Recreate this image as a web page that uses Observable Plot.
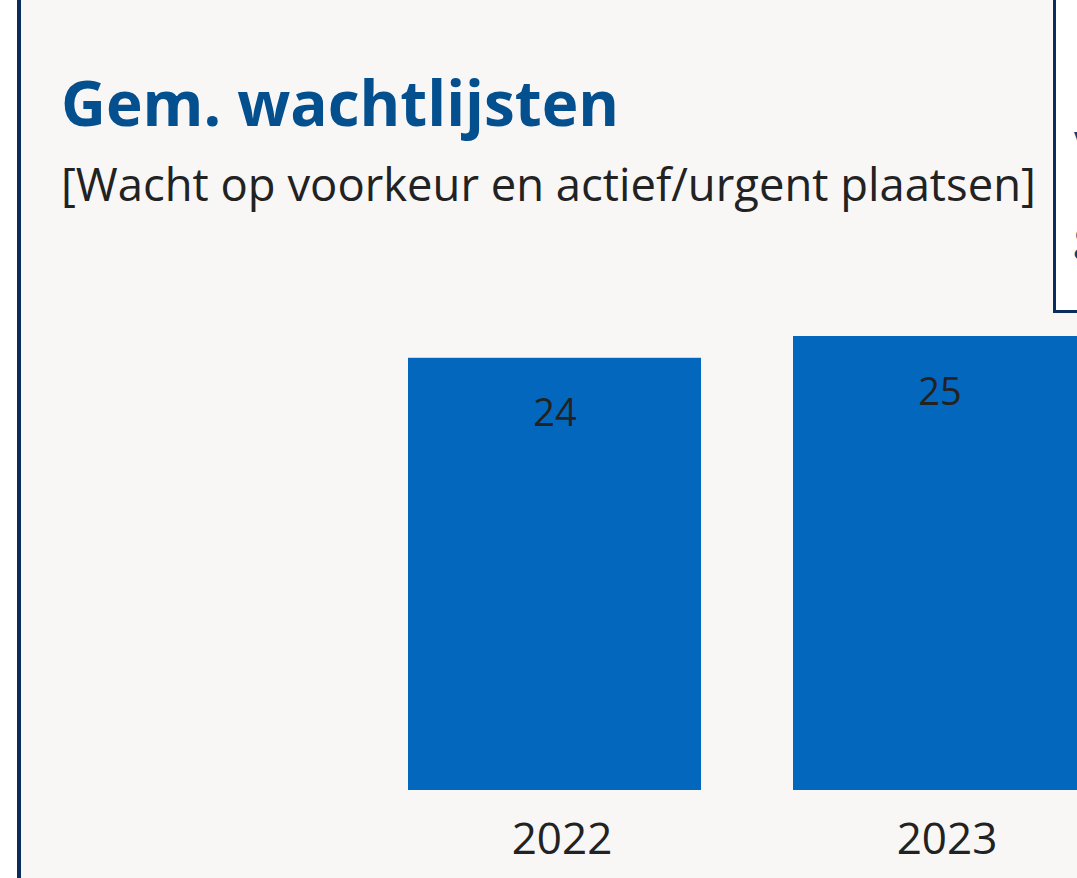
<!DOCTYPE html>
<html><head><meta charset="utf-8">
<script src="https://cdn.jsdelivr.net/npm/d3@7"></script>
<script src="https://cdn.jsdelivr.net/npm/@observablehq/plot@0.6"></script>
<style>
html,body{margin:0;padding:0;width:1077px;height:878px;overflow:hidden;background:#fff;font-family:"Open Sans",sans-serif;}
#panel{position:absolute;left:17px;top:0;width:1200px;height:878px;background:#f8f7f6;border-left:4px solid #0b2d5e;}
#title{position:absolute;left:61px;top:71px;font-weight:700;color:#044f8e;font-size:62px;line-height:1;white-space:nowrap;}
#subtitle{position:absolute;left:61px;top:161px;color:#222;font-size:45.4px;line-height:1;white-space:nowrap;}
#chart{position:absolute;left:0;top:0;}
#chart svg{max-width:none !important;background:transparent !important;overflow:visible;}
#box{position:absolute;left:1053px;top:-10px;width:200px;height:323px;background:#fff;border:3px solid #0b2d5e;box-sizing:border-box;}
#boxtext{position:absolute;left:18px;top:98px;color:#0b3f78;font-size:40px;line-height:96px;white-space:nowrap;}
</style>
</head><body>
<div id="panel"></div>
<div id="title">Gem. wachtlijsten</div>
<div id="subtitle">[Wacht op voorkeur en actief/urgent plaatsen]</div>
<div id="chart"></div>
<div id="box"><div id="boxtext">v<br>g</div></div>
<script>
const years = ["2022", "2023"];
const values = [23.8, 25.0];
const labels = ["24", "25"];
const data = years.map((y, i) => ({year: y, value: values[i], label: labels[i]}));

const chart = Plot.plot({
  width: 1200,
  height: 878,
  marginLeft: 362,
  marginRight: 68,
  marginTop: 336,
  marginBottom: 88,
  style: {background: "transparent", fontFamily: "'Open Sans', sans-serif", overflow: "visible"},
  x: {domain: years, paddingInner: 0.239, paddingOuter: 0.1195, label: null},
  y: {domain: [0, 25], axis: null},
  marks: [
    Plot.barY(data, {x: "year", y: "value", fill: "#0368bd"}),
    Plot.text(data, {x: "year", y: "value", text: "label", dy: 56, fontSize: 38, fill: "#222"}),
    Plot.axisX({tickSize: 0, tickPadding: 32, fontSize: 44, dx: 7, color: "#222"})
  ]
});
document.getElementById("chart").appendChild(chart);
</script>
</body></html>
